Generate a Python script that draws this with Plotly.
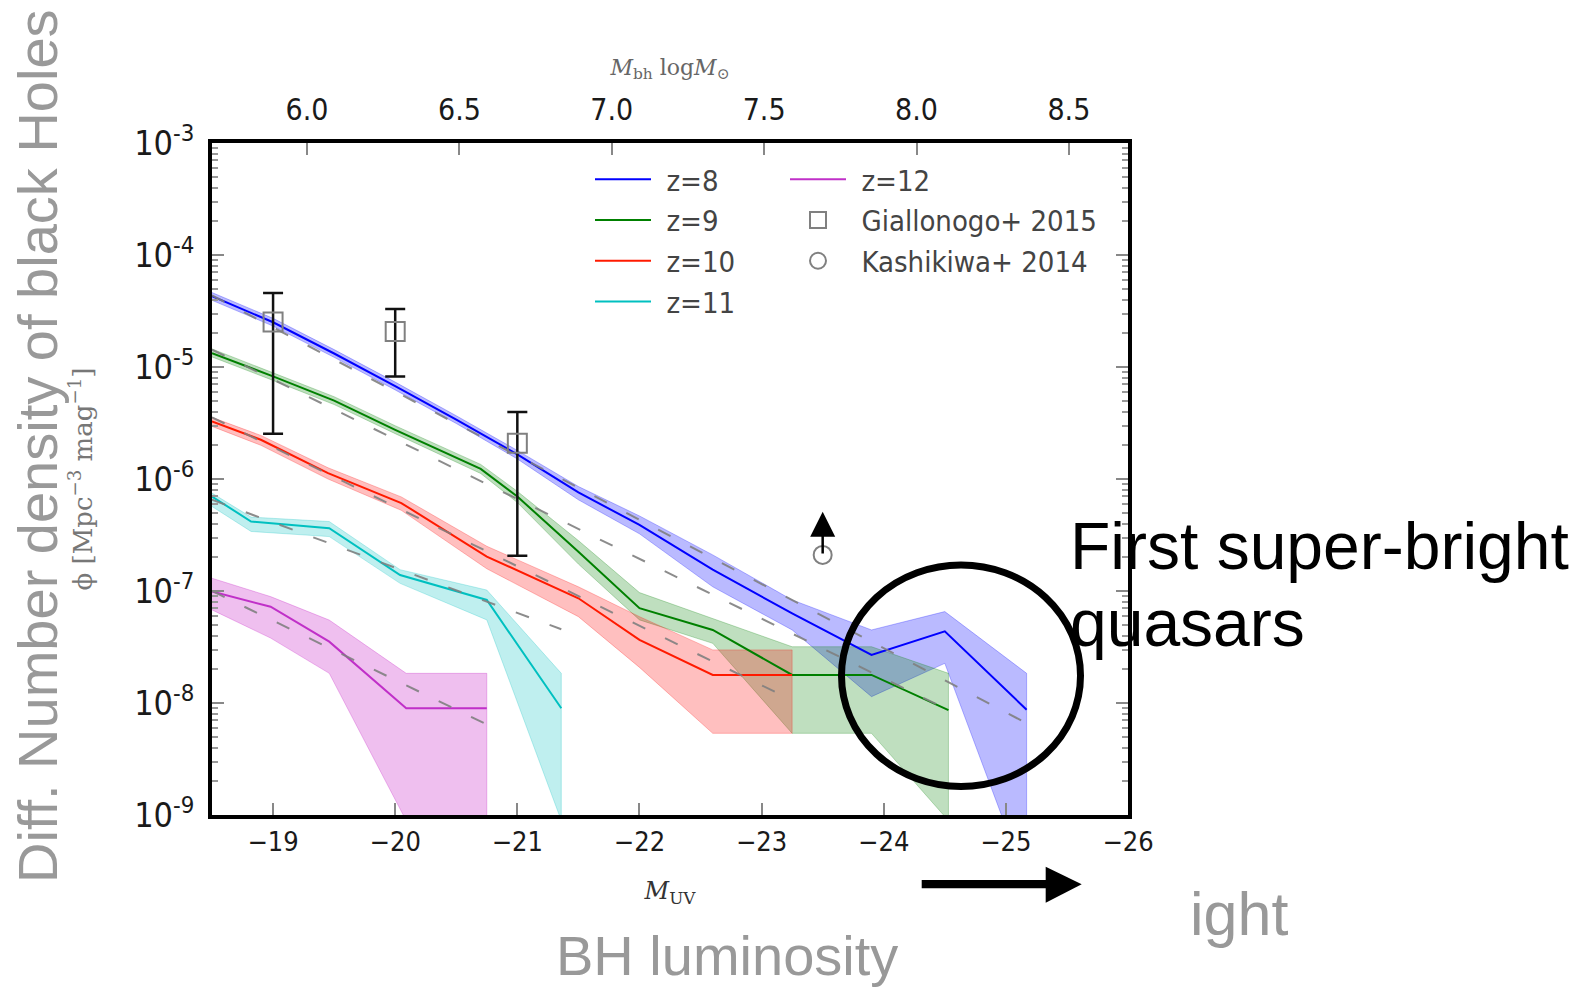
import math
import plotly.graph_objects as go

# ---------------- data ----------------
# M_UV grid and number densities phi [Mpc^-3 mag^-1]
M_z8 = [-18.5, -19.0, -19.5, -20.0, -20.5, -21.0, -21.5, -22.0, -22.6, -23.25, -23.9, -24.5, -25.17]
phi_z8 = [4.28e-5, 2.51e-5, 1.32e-5, 6.76e-6, 3.39e-6, 1.66e-6, 7.59e-7, 3.89e-7, 1.55e-7, 6.31e-8, 2.69e-8, 4.37e-8, 8.71e-9]
hi_z8 = [4.62e-5, 2.72e-5, 1.43e-5, 7.33e-6, 3.67e-6, 1.80e-6, 8.57e-7, 4.68e-7, 2.10e-7, 8.32e-8, 4.49e-8, 6.55e-8, 1.84e-8]
lo_z8 = [3.94e-5, 2.32e-5, 1.22e-5, 6.24e-6, 3.13e-6, 1.51e-6, 6.52e-7, 3.24e-7, 1.09e-7, 4.49e-8, 1.14e-8, 2.26e-8, 2.5e-10]

M_z9 = [-18.5, -19.0, -19.5, -20.0, -20.7, -21.0, -21.5, -22.0, -22.6, -23.25, -23.9, -24.53]
phi_z9 = [1.33e-5, 8.24e-6, 5.01e-6, 2.75e-6, 1.23e-6, 6.98e-7, 2.24e-7, 7.02e-8, 4.49e-8, 1.78e-8, 1.78e-8, 8.65e-9]
hi_z9 = [1.45e-5, 8.91e-6, 5.43e-6, 2.99e-6, 1.35e-6, 7.76e-7, 2.82e-7, 9.68e-8, 5.71e-8, 3.18e-8, 3.18e-8, 1.84e-8]
lo_z9 = [1.23e-5, 7.59e-6, 4.62e-6, 2.54e-6, 1.12e-6, 6.17e-7, 1.74e-7, 5.52e-8, 3.41e-8, 5.36e-9, 5.36e-9, 8.9e-10]

M_z10 = [-18.5, -18.9, -19.45, -20.05, -20.75, -21.5, -22.0, -22.6, -23.25]
phi_z10 = [3.27e-6, 2.24e-6, 1.13e-6, 6.10e-7, 2.03e-7, 8.61e-8, 3.66e-8, 1.78e-8, 1.78e-8]
hi_z10 = [3.55e-6, 2.45e-6, 1.26e-6, 6.92e-7, 2.51e-7, 1.09e-7, 5.90e-8, 2.98e-8, 2.98e-8]
lo_z10 = [2.95e-6, 2.00e-6, 1.00e-6, 5.25e-7, 1.58e-7, 5.90e-8, 2.08e-8, 5.36e-9, 5.36e-9]

M_z11 = [-18.5, -18.82, -19.46, -20.04, -20.75, -21.36]
phi_z11 = [6.98e-7, 4.17e-7, 3.64e-7, 1.39e-7, 8.32e-8, 8.97e-9]
hi_z11 = [7.48e-7, 4.57e-7, 4.17e-7, 1.55e-7, 1.02e-7, 1.84e-8]
lo_z11 = [5.68e-7, 3.40e-7, 3.06e-7, 1.17e-7, 5.52e-8, 8.9e-10]

M_z12 = [-18.5, -18.98, -19.46, -20.09, -20.75]
phi_z12 = [9.89e-8, 7.24e-8, 3.53e-8, 8.97e-9, 8.97e-9]
hi_z12 = [1.30e-7, 8.91e-8, 5.50e-8, 1.84e-8, 1.84e-8]
lo_z12 = [6.78e-8, 3.80e-8, 1.84e-8, 8.9e-10, 8.9e-10]

# gray dashed fits (end points)
fit_M = {"8": [-18.5, -25.17], "9": [-18.5, -24.5], "10": [-18.5, -23.25],
         "11": [-18.5, -21.36], "12": [-18.5, -20.73]}
fit_phi = {"8": [4.37e-5, 6.59e-9], "9": [1.43e-5, 8.97e-9], "10": [3.55e-6, 1.06e-8],
           "11": [6.52e-7, 4.56e-8], "12": [1.0e-7, 6.59e-9]}

# observations
gia_M = [-19.0, -20.0, -21.0]
gia_phi = [2.52e-5, 2.08e-5, 2.09e-6]
gia_hi = [4.58e-5, 3.30e-5, 3.96e-6]
gia_lo = [2.54e-6, 8.24e-6, 2.06e-7]

kas_M = [-23.5]
kas_phi = [2.1e-7]
kas_limit_to = [5.1e-7]

# axes
x_range = [-18.5, -26.0]
x_ticks = [-19, -20, -21, -22, -23, -24, -25, -26]
mass_range = [5.688, 8.694]
mass_ticks = [6.0, 6.5, 7.0, 7.5, 8.0, 8.5]
y_ticks = [1e-9, 1e-8, 1e-7, 1e-6, 1e-5, 1e-4, 1e-3]

# ---------------- layout geometry ----------------
W, H = 1581, 990
L, R, T, B = 212, 453, 143, 175
PW = W - L - R
PH = H - T - B


def px(x):
    return (x - L) / PW


def py(y):
    return (H - B - y) / PH


NARROW = "DejaVu Sans Condensed, Liberation Sans Narrow, Arial Narrow, sans-serif"
SANS = "Liberation Sans, Arial, Helvetica, sans-serif"
SERIF = "DejaVu Serif, Liberation Serif, serif"
GAP = "\u2009\u2009"

series = [
    ("z=8", M_z8, phi_z8, hi_z8, lo_z8, "#0000ff", "rgba(0,0,255,0.27)"),
    ("z=9", M_z9, phi_z9, hi_z9, lo_z9, "#008000", "rgba(0,128,0,0.25)"),
    ("z=10", M_z10, phi_z10, hi_z10, lo_z10, "#ff1a00", "rgba(255,0,0,0.25)"),
    ("z=11", M_z11, phi_z11, hi_z11, lo_z11, "#00c0c0", "rgba(0,191,191,0.25)"),
    ("z=12", M_z12, phi_z12, hi_z12, lo_z12, "#c030c8", "rgba(191,0,191,0.25)"),
]

fig = go.Figure()

# shaded bands
for name, M, phi, hi, lo, col, fcol in series:
    fig.add_trace(go.Scatter(
        x=M + M[::-1], y=hi + lo[::-1], fill="toself", fillcolor=fcol,
        line=dict(width=1, color=fcol), mode="lines", showlegend=False,
        hoverinfo="skip"))

# central lines
for name, M, phi, hi, lo, col, fcol in series:
    fig.add_trace(go.Scatter(
        x=M, y=phi, mode="lines", name=GAP + name, line=dict(color=col, width=2),
        legend="legend" if name != "z=12" else "legend2"))

# dashed fits
for key in ["8", "9", "10", "11", "12"]:
    fig.add_trace(go.Scatter(
        x=fit_M[key], y=fit_phi[key], mode="lines", showlegend=False,
        line=dict(color="rgba(128,128,128,0.9)", width=2, dash="14px,22px"),
        hoverinfo="skip"))

# Giallongo+ 2015
fig.add_trace(go.Scatter(
    x=gia_M, y=gia_phi, mode="markers", name=GAP + "Giallonogo+ 2015", legend="legend2",
    marker=dict(symbol="square-open", size=19, color="#808080", line=dict(width=2, color="#808080")),
    error_y=dict(type="data", symmetric=False,
                 array=[h - p for h, p in zip(gia_hi, gia_phi)],
                 arrayminus=[p - l for p, l in zip(gia_phi, gia_lo)],
                 color="#111111", thickness=2.5, width=10)))

# Kashikawa+ 2014 (lower limit)
fig.add_trace(go.Scatter(
    x=kas_M, y=kas_phi, mode="markers", name=GAP + "Kashikiwa+ 2014", legend="legend2",
    marker=dict(symbol="circle-open", size=18, color="#808080", line=dict(width=2, color="#808080"))))

# dummy trace for the top mass axis
fig.add_trace(go.Scatter(x=mass_ticks, y=[None] * len(mass_ticks), xaxis="x2",
                         mode="markers", showlegend=False, hoverinfo="skip"))

annotations = [
    # lower-limit arrow
    dict(x=kas_M[0], y=math.log10(kas_limit_to[0]), ax=kas_M[0], ay=math.log10(kas_phi[0]),
         xref="x", yref="y", axref="x", ayref="y", text="", showarrow=True,
         arrowhead=2, arrowsize=2.0, arrowwidth=2.5, arrowcolor="#000000", standoff=0),
    # slide texts
    dict(x=px(38), y=py(446), xref="paper", yref="paper", text="Diff. Number density of black Holes",
         textangle=-90, showarrow=False, font=dict(family=SANS, size=56, color="#999999"),
         xanchor="center", yanchor="middle"),
    dict(x=px(727), y=py(955), xref="paper", yref="paper", text="BH luminosity",
         showarrow=False, font=dict(family=SANS, size=56, color="#999999"),
         xanchor="center", yanchor="middle"),
    dict(x=px(1188), y=py(914), xref="paper", yref="paper", text="ight",
         showarrow=False, font=dict(family=SANS, size=61, color="#999999"),
         xanchor="left", yanchor="middle"),
    dict(x=px(1068), y=py(546), xref="paper", yref="paper", text="First super-bright",
         showarrow=False, font=dict(family=SANS, size=66, color="#000000"),
         xanchor="left", yanchor="middle"),
    dict(x=px(1068), y=py(623), xref="paper", yref="paper", text="quasars",
         showarrow=False, font=dict(family=SANS, size=66, color="#000000"),
         xanchor="left", yanchor="middle"),
]

shapes = [
    dict(type="circle", xref="paper", yref="paper", x0=px(841.5), x1=px(1080.5),
         y0=py(786.5), y1=py(565), line=dict(color="#000000", width=7)),
    dict(type="rect", xref="paper", yref="paper", x0=px(921.7), x1=px(1046.5),
         y0=py(888.3), y1=py(880), fillcolor="#000000", line=dict(width=0)),
    dict(type="path", xref="paper", yref="paper",
         path=f"M {px(1045.7)},{py(866.7)} L {px(1081.7)},{py(884.3)} L {px(1045.7)},{py(902.7)} Z",
         fillcolor="#000000", line=dict(width=0)),
]

fig.update_layout(
    width=W, height=H, margin=dict(l=L, r=R, t=T, b=B, autoexpand=False),
    paper_bgcolor="white", plot_bgcolor="white",
    annotations=annotations, shapes=shapes,
    xaxis=dict(range=x_range, tickvals=x_ticks, ticktext=["\u2212" + str(-v) for v in x_ticks],
               ticks="inside", ticklen=12, tickwidth=2, tickcolor="#888888",
               showline=True, linewidth=3.5, linecolor="#000000", mirror=True,
               showgrid=False, zeroline=False,
               tickfont=dict(family=NARROW, size=27, color="#1a1a1a"), ticklabelstandoff=0,
               title=dict(text="<i>M</i><sub>UV</sub>", font=dict(family=SERIF, size=24, color="#333333"),
                          standoff=27)),
    xaxis2=dict(overlaying="x", side="top", range=mass_range, tickvals=mass_ticks,
                ticktext=[f"{v:.1f}" for v in mass_ticks],
                ticks="inside", ticklen=12, tickwidth=2, tickcolor="#888888",
                showline=False, showgrid=False, zeroline=False,
                tickfont=dict(family=NARROW, size=30, color="#1a1a1a"), ticklabelstandoff=16,
                title=dict(text="<i>M</i><sub>bh</sub> log<i>M</i><sub>\u2299</sub>",
                           font=dict(family=SERIF, size=22, color="#666666"), standoff=10)),
    yaxis=dict(type="log", range=[-9, -3], tickvals=y_ticks,
               ticktext=[f"10<sup>{int(round(math.log10(v)))}</sup>" for v in y_ticks],
               ticks="inside", ticklen=12, tickwidth=2, tickcolor="#888888",
               minor=dict(ticks="inside", ticklen=6, tickwidth=1.5, tickcolor="#999999", dtick="D1"),
               showline=True, linewidth=3.5, linecolor="#000000", mirror="ticks",
               showgrid=False, zeroline=False,
               tickfont=dict(family=NARROW, size=34, color="#1a1a1a"), ticklabelstandoff=7,
               title=dict(text="\u03d5 [Mpc<sup>\u22123</sup> mag<sup>\u22121</sup>]",
                          font=dict(family=SERIF, size=26, color="#777777"), standoff=35)),
    legend=dict(x=px(590), y=py(154), xanchor="left", yanchor="top", bgcolor="rgba(0,0,0,0)",
                font=dict(family=NARROW, size=29, color="#444444"), itemwidth=56,
                tracegroupgap=0),
    legend2=dict(x=px(785), y=py(154), xanchor="left", yanchor="top", bgcolor="rgba(0,0,0,0)",
                 font=dict(family=NARROW, size=29, color="#444444"), itemwidth=56,
                 tracegroupgap=0),
)

fig.write_html("out.html")
